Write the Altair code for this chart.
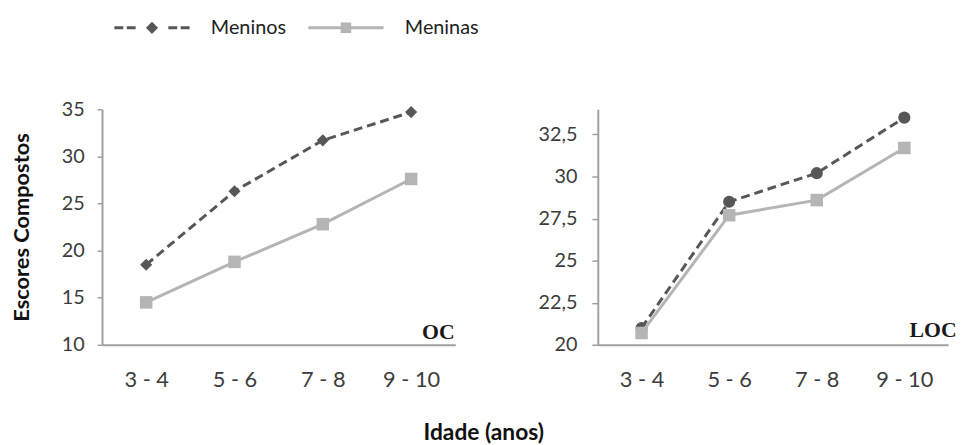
import altair as alt
import pandas as pd

# ---- data ----
idades = ["3 - 4", "5 - 6", "7 - 8", "9 - 10"]
series = ["Meninos", "Meninas"]
oc_meninos = [18.5, 26.3, 31.7, 34.7]
oc_meninas = [14.5, 18.8, 22.8, 27.6]
loc_meninos = [21.0, 28.5, 30.2, 33.5]
loc_meninas = [20.7, 27.7, 28.6, 31.7]
oc_ticks = [10, 15, 20, 25, 30, 35]
loc_ticks = [20, 22.5, 25, 27.5, 30, 32.5]
oc_domain = [10, 35]
loc_domain = [20, 34]

rows = []
for panel, boys, girls in [("OC", oc_meninos, oc_meninas), ("LOC", loc_meninos, loc_meninas)]:
    for i, a in enumerate(idades):
        rows.append({"panel": panel, "idade": a, "serie": "Meninos", "valor": boys[i]})
        rows.append({"panel": panel, "idade": a, "serie": "Meninas", "valor": girls[i]})
df = pd.DataFrame(rows)

DARK = "#575757"
LIGHT = "#b5b5b5"
LABEL_FONT = "Lato"

# legend glyphs: line + marker (custom symbol paths)
boys_glyph = ("M-3.8,0H-2.9M-2.55,0H-1.65M1.65,0H2.55M2.9,0H3.8"
              "M0,-0.4L0.4,0L0,0.4L-0.4,0Z")
girls_glyph = "M-3.8,0H-0.38M0.38,0H3.8M-0.38,-0.38H0.38V0.38H-0.38Z"


def panel(name, domain, ticks, boy_shape, boy_size, with_title, label_dx, label_dy,
          tick_size, label_pad, width, with_legend):
    base = alt.Chart(df).transform_filter(alt.datum.panel == name)
    x = alt.X("idade:N", sort=idades,
              scale=alt.Scale(type="point", padding=0.5, domain=idades),
              axis=alt.Axis(title=None, labelAngle=0, ticks=False, domainColor="#a0a0a0",
                            domainWidth=2, labelFont=LABEL_FONT, labelFontSize=22,
                            labelColor="#3c3c3c", labelPadding=25))
    yaxis = dict(values=ticks, grid=False, domainColor="#a0a0a0", domainWidth=2,
                 tickColor="#a0a0a0", tickSize=tick_size, tickWidth=1.5,
                 labelFont=LABEL_FONT, labelFontSize=20, labelColor="#3c3c3c",
                 labelPadding=label_pad,
                 labelExpr="replace(toString(datum.value), '.', ',')")
    if with_title:
        yaxis.update(title="Escores Compostos", titleFont=LABEL_FONT, titleFontSize=22,
                     titleFontWeight="bold", titleColor="#111111", titlePadding=28)
    else:
        yaxis.update(title=None)
    y = alt.Y("valor:Q", scale=alt.Scale(domain=domain, nice=False, zero=False),
              axis=alt.Axis(**yaxis))

    boys = base.transform_filter(alt.datum.serie == "Meninos")
    girls = base.transform_filter(alt.datum.serie == "Meninas")
    layers = [
        boys.mark_line(color=DARK, strokeWidth=3, strokeDash=[9, 5]).encode(x=x, y=y),
        boys.mark_point(shape=boy_shape, filled=True, size=boy_size, color=DARK,
                        opacity=1).encode(x=x, y=y),
        girls.mark_line(color=LIGHT, strokeWidth=3).encode(x=x, y=y),
        girls.mark_point(shape="square", filled=True, size=160, color=LIGHT,
                         opacity=1).encode(x=x, y=y),
        alt.Chart(pd.DataFrame({"idade": [idades[-1]], "valor": [domain[0]],
                                "rotulo": [name]}))
        .mark_text(align="right", baseline="alphabetic", dx=label_dx, dy=label_dy,
                   font="Liberation Serif", fontWeight="bold", fontSize=22,
                   color="#1a1a1a")
        .encode(x=x, y=y, text="rotulo:N"),
    ]
    if with_legend:
        leg = alt.Legend(title=None, orient="none", legendX=39, legendY=-94,
                         direction="horizontal", symbolSize=400, symbolStrokeWidth=3,
                         symbolOpacity=1, labelFont=LABEL_FONT, labelFontSize=20,
                         labelColor="#222222", labelOffset=48, columnPadding=16,
                         padding=0)
        layers.append(
            base.mark_point(filled=True, opacity=0).encode(
                x=x, y=y,
                fill=alt.Fill("serie:N", scale=alt.Scale(domain=series, range=[DARK, LIGHT]),
                              legend=leg),
                stroke=alt.Stroke("serie:N",
                                  scale=alt.Scale(domain=series, range=[DARK, LIGHT]),
                                  legend=leg),
                shape=alt.Shape("serie:N",
                                scale=alt.Scale(domain=series,
                                                range=[boys_glyph, girls_glyph]),
                                legend=leg),
            )
        )
    return alt.layer(*layers).properties(width=width, height=238)


left = panel("OC", oc_domain, oc_ticks, "diamond", 150, True, 44, -6, 5, 13, 357, True)
right = panel("LOC", loc_domain, loc_ticks, "circle", 150, False, 53, -8, 6, 15, 354, False)

chart = (
    alt.hconcat(left, right, spacing=83)
    .properties(
        title=alt.TitleParams("Idade (anos)", orient="bottom", anchor="middle",
                              font=LABEL_FONT, fontSize=23, fontWeight="bold",
                              color="#111111", offset=32),
        padding={"left": 2, "top": 6, "right": 0, "bottom": 0},
    )
    .configure_view(stroke=None)
)

chart.save("out.html", embed_options={"renderer": "svg", "actions": False})
